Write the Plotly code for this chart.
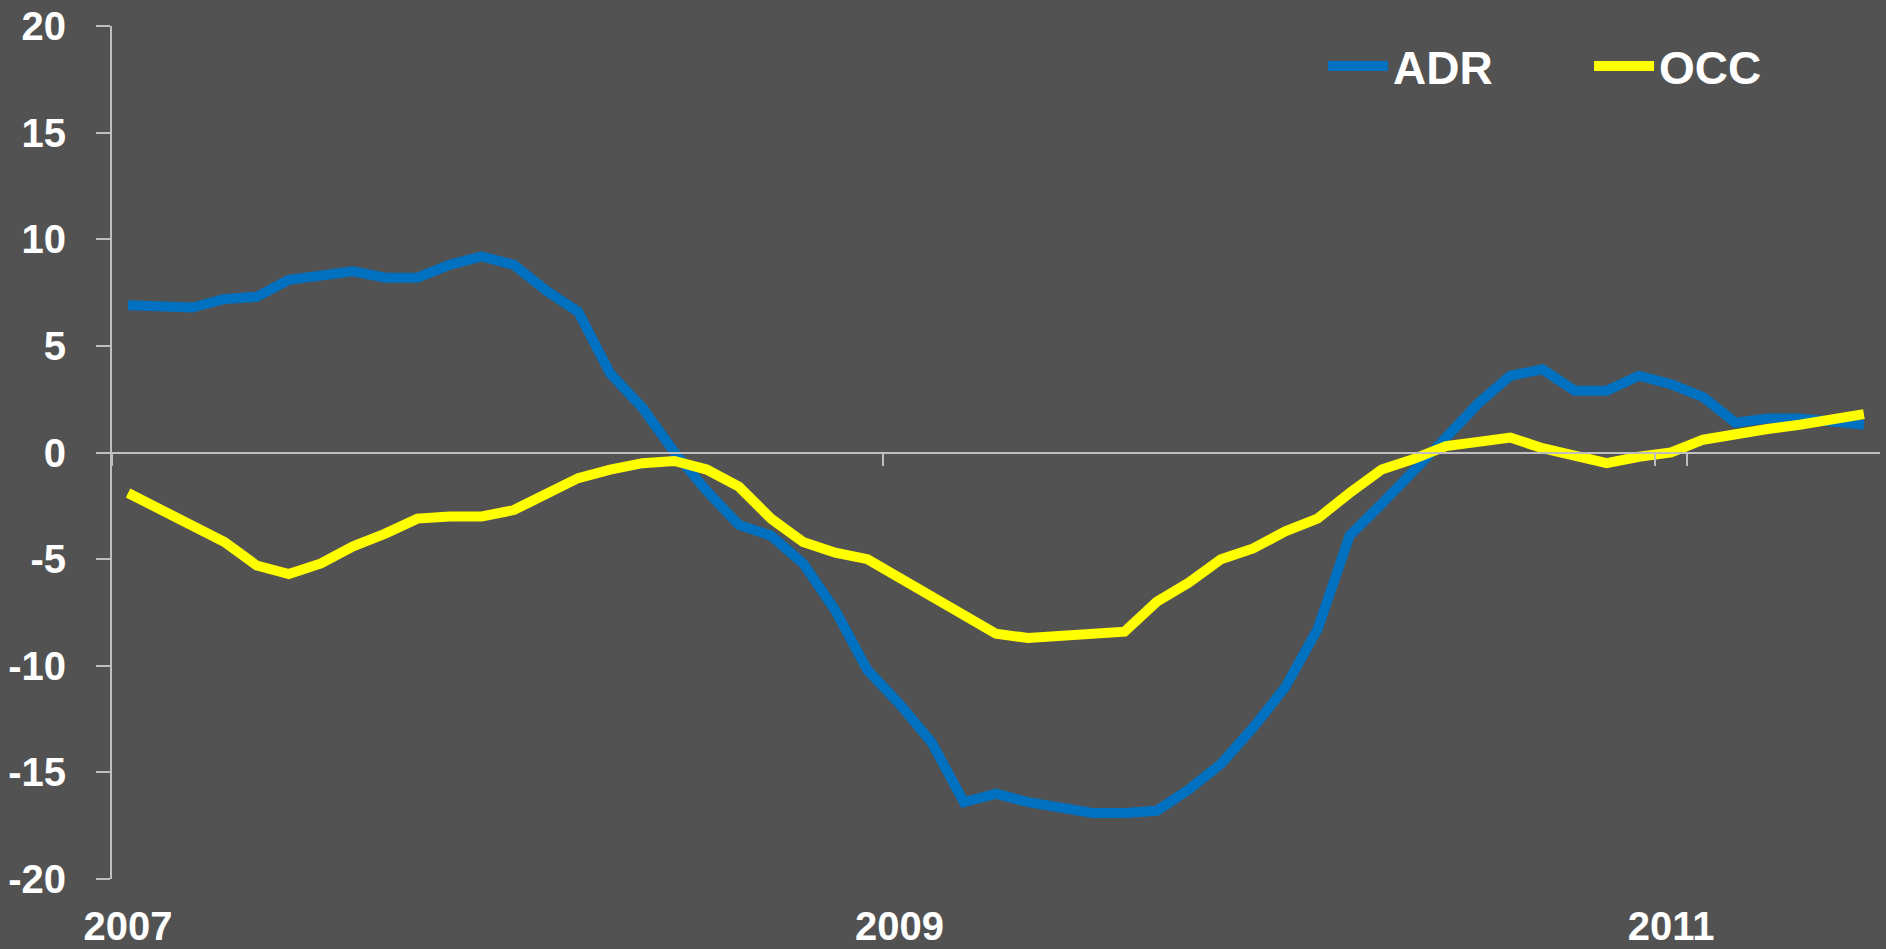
import plotly.graph_objects as go

# monthly categories Jan 2007 .. Jul 2011
month_names = ["Jan", "Feb", "Mar", "Apr", "May", "Jun", "Jul", "Aug", "Sep", "Oct", "Nov", "Dec"]
months = [f"{m} {y}" for y in range(2007, 2012) for m in month_names][:55]

adr = [6.9, 6.8, 6.8, 7.2, 7.3, 8.1, 8.3, 8.5, 8.2, 8.2, 8.8, 9.2,
       8.8, 7.6, 6.6, 3.7, 2.1, 0.0, -1.8, -3.4, -3.9, -5.2, -7.4, -10.2,
       -11.8, -13.6, -16.4, -16.0, -16.4, -16.7, -16.9, -16.9, -16.8, -15.8, -14.6, -12.9,
       -11.0, -8.3, -3.9, -2.4, -0.9, 0.7, 2.3, 3.6, 3.9, 2.9, 2.9, 3.6,
       3.2, 2.6, 1.4, 1.6, 1.6, 1.4, 1.3]
occ = [-1.9, -2.7, -3.5, -4.2, -5.3, -5.7, -5.2, -4.4, -3.8, -3.1, -3.0, -3.0,
       -2.7, -2.0, -1.2, -0.8, -0.5, -0.4, -0.8, -1.6, -3.1, -4.2, -4.7, -5.0,
       -5.9, -6.7, -7.6, -8.5, -8.7, -8.6, -8.5, -8.4, -7.0, -6.1, -5.0, -4.5,
       -3.7, -3.1, -1.9, -0.8, -0.3, 0.3, 0.5, 0.7, 0.2, -0.2, -0.5, -0.2,
       0.0, 0.6, 0.9, 1.1, 1.3, 1.6, 1.8]

year_ticks = ["Jan 2007", "Jan 2009", "Jan 2011"]
year_labels = ["2007", "2009", "2011"]
y_ticks = [-20, -15, -10, -5, 0, 5, 10, 15, 20]
y_labels = ["-20", "-15", "-10", "-5", "0", "5", "10", "15", "20"]

bg = "#525252"
axis_col = "#BFBFBF"
tick_font = dict(family="Liberation Sans", size=40, color="white", weight="bold")

fig = go.Figure()
fig.add_trace(go.Scatter(x=months, y=adr, name="ADR", mode="lines",
                         line=dict(color="#0070C0", width=10)))
fig.add_trace(go.Scatter(x=months, y=occ, name="OCC", mode="lines",
                         line=dict(color="#FFFF00", width=10)))

fig.update_xaxes(type="category", categoryorder="array", categoryarray=months,
                 range=[-0.5, 54.5], anchor="free", position=0.5,
                 showline=True, linecolor=axis_col, linewidth=2,
                 showgrid=False, zeroline=False,
                 tickmode="array", tickvals=year_ticks, ticktext=year_labels, tickangle=0,
                 tickson="boundaries", ticks="outside", ticklen=12, tickwidth=2,
                 tickcolor=axis_col, ticklabelstandoff=438, tickfont=tick_font)
fig.update_yaxes(range=[-20, 20], tickmode="array", tickvals=y_ticks, ticktext=y_labels,
                 showgrid=False, zeroline=False,
                 showline=True, linecolor=axis_col, linewidth=2,
                 ticks="outside", ticklen=14, tickwidth=2, tickcolor=axis_col,
                 ticklabelstandoff=22, tickfont=tick_font)

fig.update_layout(width=1886, height=949, template=None,
                  paper_bgcolor=bg, plot_bgcolor=bg,
                  margin=dict(l=112, r=6, t=26, b=70, autoexpand=False),
                  showlegend=True,
                  legend=dict(orientation="h", x=0.685, xanchor="left", y=0.953, yanchor="middle",
                              bgcolor="rgba(0,0,0,0)", entrywidth=191, entrywidthmode="pixels",
                              itemwidth=60,
                              font=dict(family="Liberation Sans", size=46, color="white", weight="bold")))

fig.write_html("out.html", config={"displayModeBar": False},
               post_script="document.body.style.margin='0';document.body.style.overflow='hidden';")
